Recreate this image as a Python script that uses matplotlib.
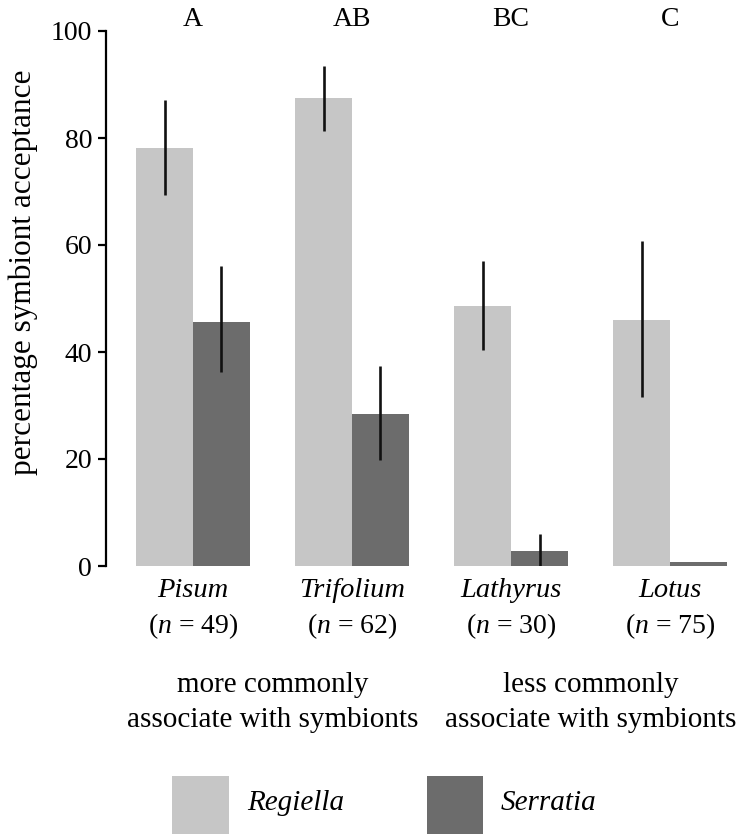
import matplotlib
matplotlib.use("Agg")
import matplotlib.pyplot as plt
import matplotlib.transforms as mtransforms
from matplotlib.patches import Rectangle
import numpy as np

plt.rcParams['font.family'] = ['Liberation Serif', 'DejaVu Serif']
plt.rcParams['mathtext.fontset'] = 'custom'
plt.rcParams['mathtext.rm'] = 'Liberation Serif'
plt.rcParams['mathtext.it'] = 'Liberation Serif:italic'

# ---- data ----
hosts = ["Pisum", "Trifolium", "Lathyrus", "Lotus"]
n_sizes = [49, 62, 30, 75]
letters = ["A", "AB", "BC", "C"]
regiella = [78.2, 87.4, 48.6, 46.0]
regiella_lo = [69.3, 81.3, 40.4, 31.6]
regiella_hi = [87.1, 93.5, 57.0, 60.7]
serratia = [45.7, 28.4, 2.8, 0.7]
serratia_lo = [36.3, 19.8, 0.0, None]
serratia_hi = [56.1, 37.4, 6.0, None]
group_line1 = ["more commonly", "less commonly"]
group_line2 = ["associate with symbionts", "associate with symbionts"]
series_names = ["Regiella", "Serratia"]
colors = ["#c6c6c6", "#6c6c6c"]

W, H = 740, 834
fig = plt.figure(figsize=(W / 100, H / 100), dpi=100)

def fy(py):
    return 1 - py / H

ax_left, ax_right, ax_top, ax_bot = 106, 727, 31, 566
ax = fig.add_axes([ax_left / W, fy(ax_bot), (ax_right - ax_left) / W, (ax_bot - ax_top) / H])

x = np.arange(len(hosts))
bw = 0.358
ax.bar(x - bw / 2, regiella, width=bw, color=colors[0], linewidth=0)
ax.bar(x + bw / 2, serratia, width=bw, color=colors[1], linewidth=0)

ekw = dict(color="#111111", linewidth=1.9, solid_capstyle="butt")
for i in range(len(hosts)):
    ax.plot([x[i] - bw / 2] * 2, [regiella_lo[i], regiella_hi[i]], **ekw)
    if serratia_lo[i] is not None:
        ax.plot([x[i] + bw / 2] * 2, [serratia_lo[i], serratia_hi[i]], **ekw)

ax.set_xlim(-0.547, 3.358)
ax.set_ylim(0, 100)
for s in ["top", "right", "bottom"]:
    ax.spines[s].set_visible(False)
ax.spines["left"].set_linewidth(1.6)
ax.set_xticks([])
ax.set_yticks([0, 20, 40, 60, 80, 100])
ax.tick_params(axis="y", length=6, width=1.6, labelsize=20, pad=4)
ax.set_ylabel("percentage symbiont acceptance", fontsize=22.5)
ax.yaxis.set_label_coords(-(106 - 38) / (ax_right - ax_left), (566 - 272) / (566 - 31))

trans = mtransforms.blended_transform_factory(ax.transData, fig.transFigure)
for i in range(len(hosts)):
    ax.text(x[i], fy(26), letters[i], transform=trans, ha="center", va="baseline", fontsize=20)
    ax.text(x[i], fy(597), hosts[i], transform=trans, ha="center", va="baseline",
            fontsize=20.5, style="italic")
    ax.text(x[i], fy(633), "($n$ = %d)" % n_sizes[i], transform=trans, ha="center",
            va="baseline", fontsize=20)

for gx, l1, l2 in zip([0.5, 2.5], group_line1, group_line2):
    ax.text(gx, fy(692), l1, transform=trans, ha="center", va="baseline", fontsize=21)
    ax.text(gx, fy(727), l2, transform=trans, ha="center", va="baseline", fontsize=21)

# legend
for (px0, px1), name, c, tx in zip([(172, 229), (427, 483)], series_names, colors, [247, 501]):
    fig.patches.append(Rectangle((px0 / W, 0), (px1 - px0) / W, fy(776),
                                 transform=fig.transFigure, color=c, linewidth=0))
    fig.text(tx / W, fy(810), name, ha="left", va="baseline", fontsize=21, style="italic")

fig.savefig("out.png", dpi=100)
